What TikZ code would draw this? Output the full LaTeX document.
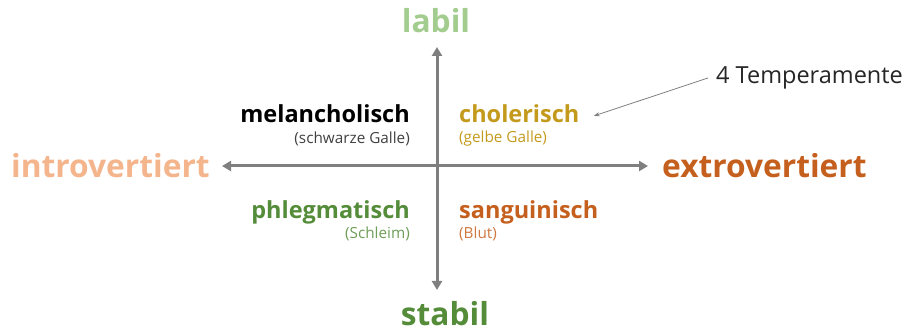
\documentclass[tikz,border=0pt]{standalone}
\usepackage{fontspec}
\setmainfont{Open Sans}
\usetikzlibrary{arrows.meta}
\definecolor{lightgreen}{HTML}{A2CD8E}
\definecolor{darkgreen}{HTML}{548C3A}
\definecolor{lightorange}{HTML}{F4B48C}
\definecolor{darkorange}{HTML}{C55F1D}
\definecolor{gold}{HTML}{C49A1C}
\definecolor{axisgray}{HTML}{7F7F7F}
\begin{document}
\begin{tikzpicture}[x=1pt,y=1pt,
  axislabel/.style={font=\fontsize{31.7}{34}\selectfont\bfseries, inner sep=0pt},
  temp/.style={font=\fontsize{23.5}{26}\selectfont\bfseries, inner sep=0pt},
  humor/.style={font=\fontsize{15.3}{17}\selectfont, inner sep=0pt},
  axisline/.style={draw=axisgray, line width=3pt, -{Triangle[length=9pt,width=10pt]}},
  note/.style={font=\fontsize{23.5}{26}\selectfont, inner sep=0pt, text=black!85}]
\useasboundingbox (0,0) rectangle (910,334);
\coordinate (O) at (437,168);
\coordinate (top) at (437,287);
\coordinate (bottom) at (437,44);
\coordinate (left) at (222,168);
\coordinate (right) at (648,168);
\draw[axisline] (O) -- (top);
\draw[axisline] (O) -- (bottom);
\draw[axisline] (O) -- (left);
\draw[axisline] (O) -- (right);
\node[axislabel, text=lightgreen, anchor=base] (labil) at (436,301) {labil};
\node[axislabel, text=darkgreen, anchor=base] (stabil) at (445,8) {stabil};
\node[axislabel, text=lightorange, anchor=west] (intro) at (11,168) {introvertiert};
\node[axislabel, text=darkorange, anchor=west] (extro) at (662,168) {extrovertiert};
\node[temp, anchor=east] (mel) at (410,220) {melancholisch};
\node[humor, anchor=east, text=black!75] (melh) at (410,195) {(schwarze Galle)};
\node[temp, anchor=west, text=gold] (cho) at (459,220) {cholerisch};
\node[humor, anchor=west, text=gold] (choh) at (459,195) {(gelbe Galle)};
\node[temp, anchor=east, text=darkgreen] (phl) at (410,122) {phlegmatisch};
\node[humor, anchor=east, text=darkgreen!85] (phlh) at (410,100) {(Schleim)};
\node[temp, anchor=west, text=darkorange] (san) at (459,122) {sanguinisch};
\node[humor, anchor=west, text=darkorange!85] (sanh) at (459,100) {(Blut)};
\node[note, anchor=west] (four) at (716,256) {4 Temperamente};
\draw[axisgray, line width=0.8pt, -{Stealth[length=6pt,width=4pt]}] (four.west) ++(-8,0) coordinate (fs) -- ([xshift=14pt,yshift=-2pt]cho.east);
\end{tikzpicture}
\end{document}
